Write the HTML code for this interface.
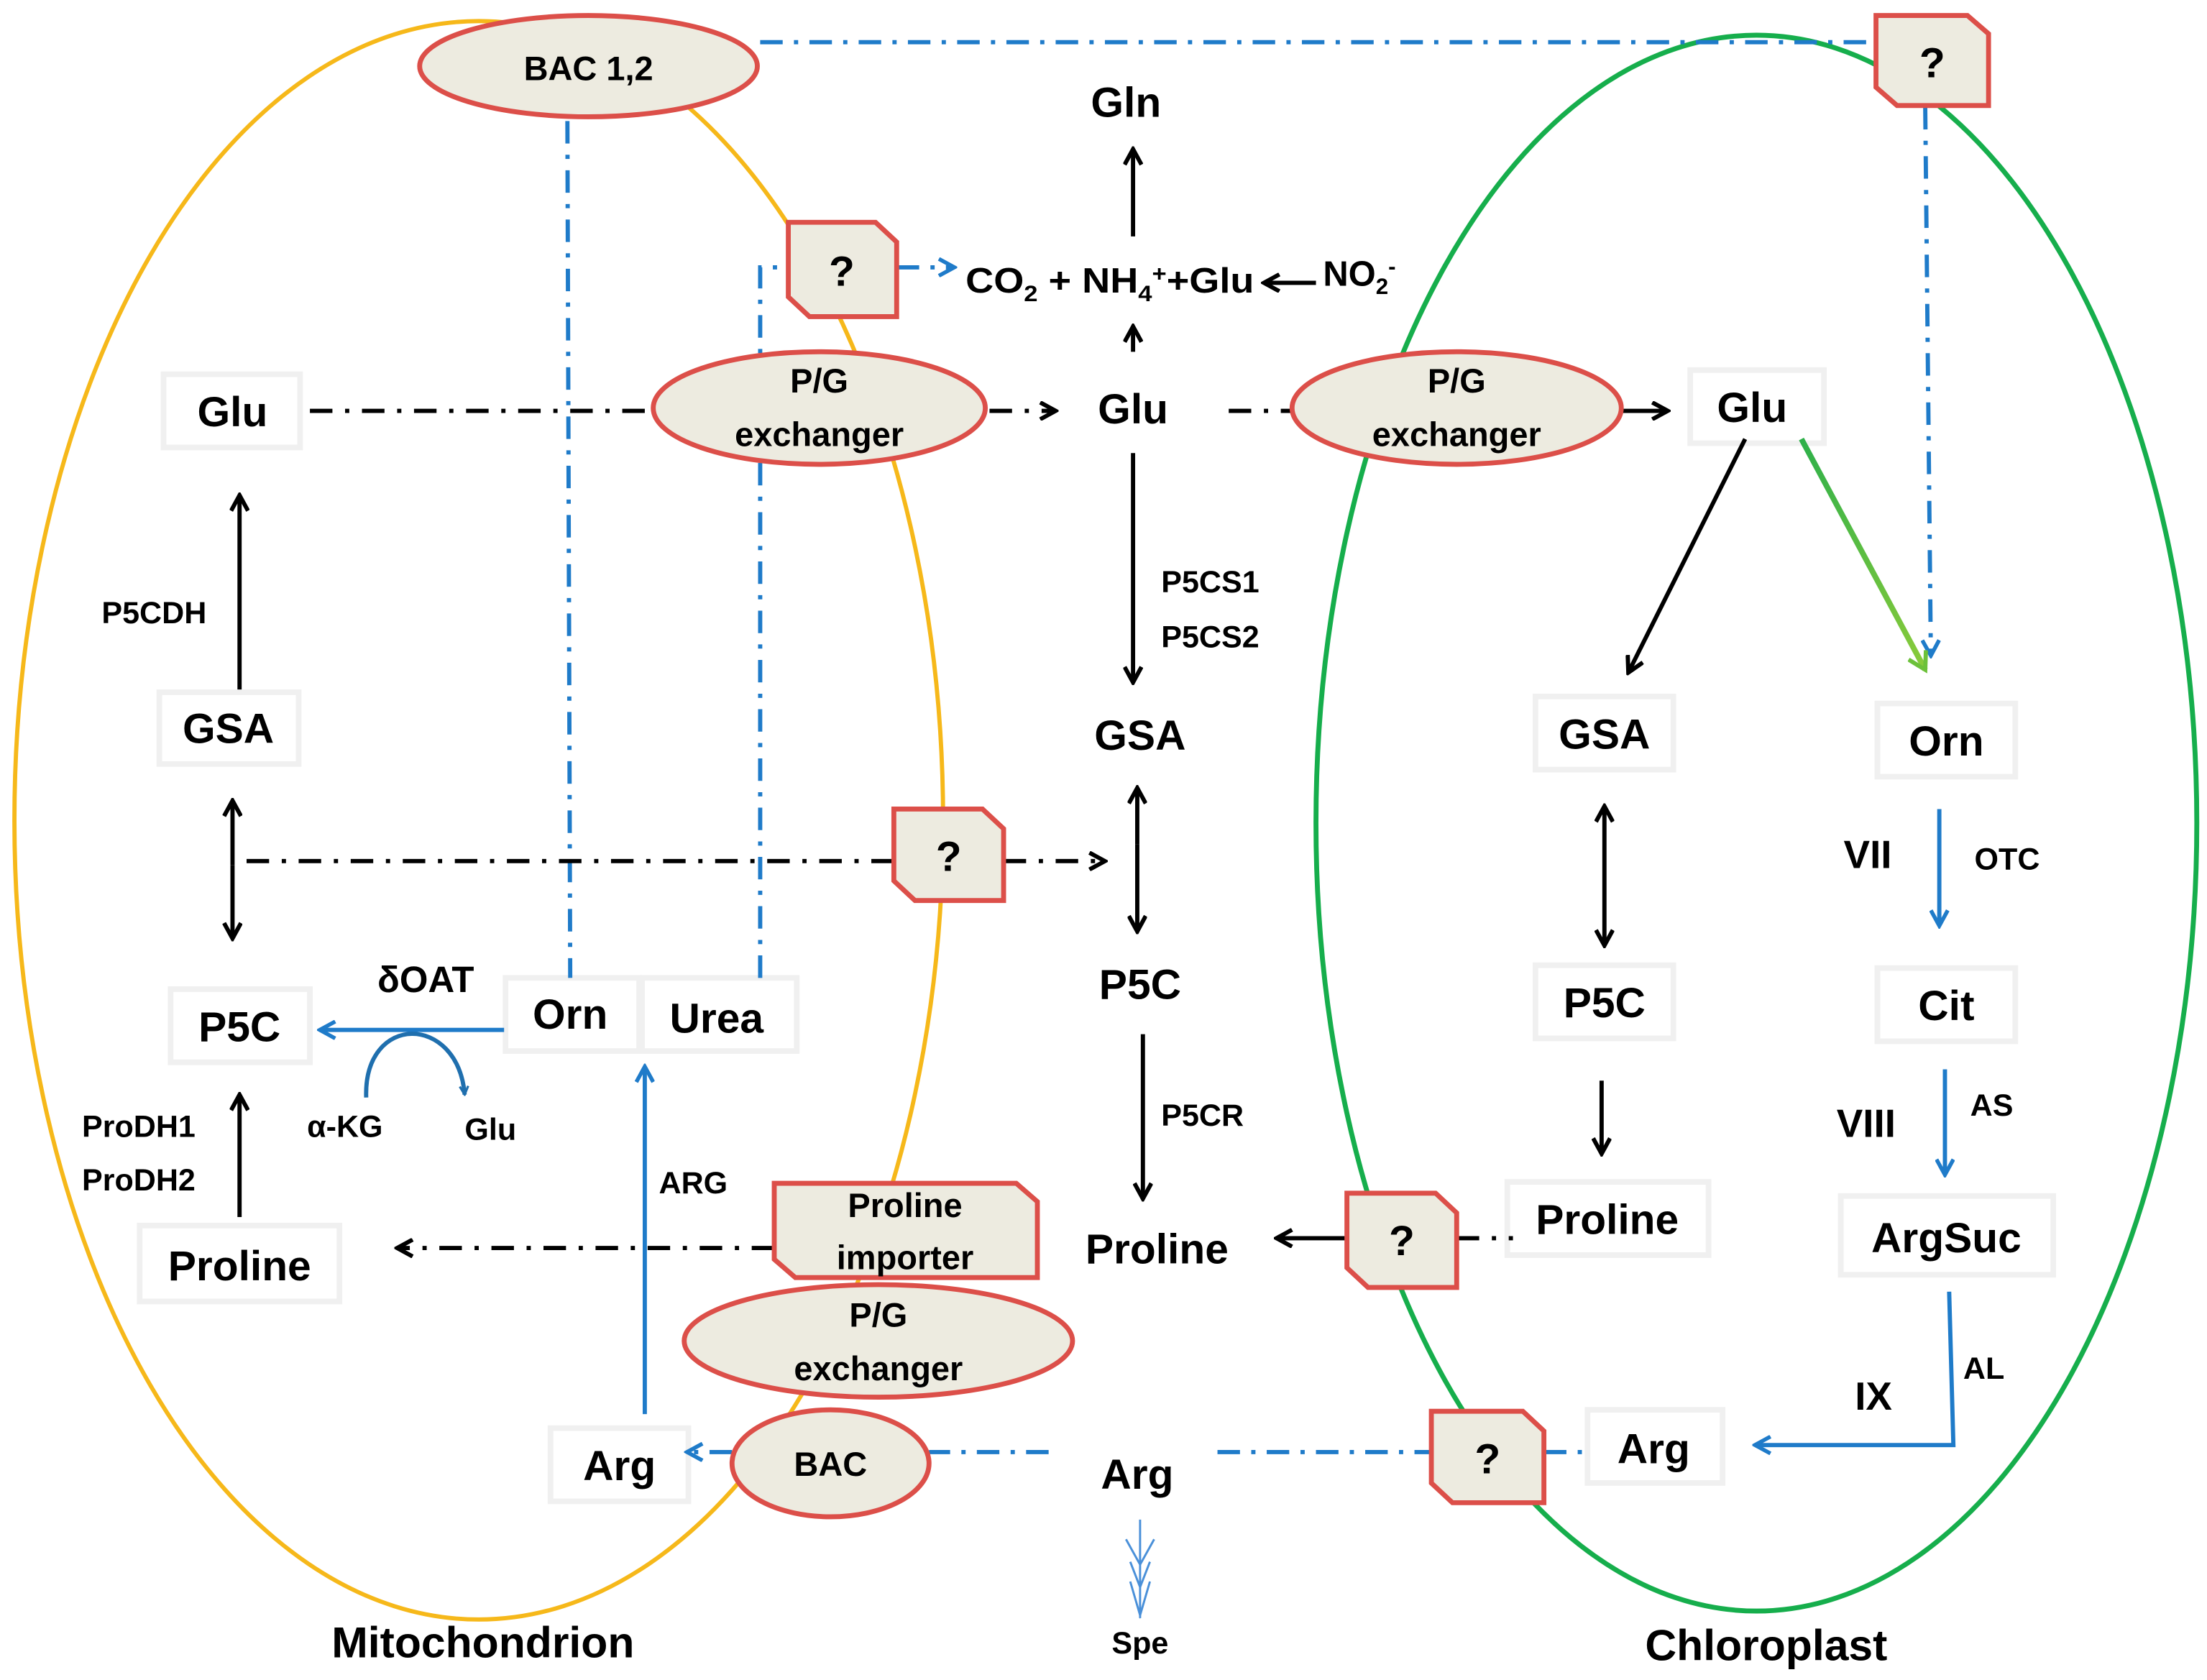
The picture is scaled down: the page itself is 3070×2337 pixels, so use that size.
<!DOCTYPE html>
<html><head><meta charset="utf-8"><style>
html,body{margin:0;padding:0;background:#fff;}
svg{display:block;}
text{font-family:"Liberation Sans",sans-serif;font-weight:bold;fill:#000;}
</style></head><body>
<svg width="3070" height="2337" viewBox="0 0 1568 1194" xmlns="http://www.w3.org/2000/svg">
<defs>
<marker id="ak" markerWidth="14" markerHeight="14" refX="12" refY="7" orient="auto" markerUnits="userSpaceOnUse" viewBox="0 0 14 14"><path d="M1,1 L12,7 L1,13" fill="none" stroke="#000" stroke-width="3"/></marker>
<marker id="abl" markerWidth="14" markerHeight="14" refX="12" refY="7" orient="auto" markerUnits="userSpaceOnUse" viewBox="0 0 14 14"><path d="M1,1 L12,7 L1,13" fill="none" stroke="#1F7BC9" stroke-width="2.8"/></marker>
<marker id="ag" markerWidth="16" markerHeight="16" refX="13" refY="8" orient="auto" markerUnits="userSpaceOnUse" viewBox="0 0 16 16"><path d="M1,1 L13,8 L1,15" fill="none" stroke="#6CC13A" stroke-width="3"/></marker>
<marker id="as" markerWidth="8" markerHeight="8" refX="7" refY="4" orient="auto" markerUnits="userSpaceOnUse" viewBox="0 0 8 8"><path d="M1,1 L7,4 L1,7" fill="none" stroke="#1F6FAE" stroke-width="1.6"/></marker>
<linearGradient id="gg" x1="0" y1="0" x2="1" y2="1"><stop offset="0" stop-color="#2EB04A"/><stop offset="1" stop-color="#8ACB3A"/></linearGradient>
</defs>

<ellipse cx="340" cy="583" rx="330" ry="568" fill="none" stroke="#F6B81A" stroke-width="3"/>
<ellipse cx="1248" cy="585" rx="313" ry="560" fill="none" stroke="#16AE4C" stroke-width="3.5"/>

<g fill="#fff" stroke="#f0f0f0" stroke-width="4">
<rect x="116" y="266" width="97" height="52"/>
<rect x="113" y="492" width="99" height="51"/>
<rect x="121" y="703" width="99" height="52"/>
<rect x="99" y="871" width="142" height="54"/>
<rect x="359" y="695" width="95" height="52"/>
<rect x="456" y="695" width="110" height="52"/>
<rect x="391" y="1015" width="98" height="52"/>
<rect x="1201" y="263" width="95" height="52"/>
<rect x="1091" y="495" width="98" height="52"/>
<rect x="1091" y="686" width="98" height="52"/>
<rect x="1071" y="840" width="143" height="52"/>
<rect x="1334" y="500" width="98" height="52"/>
<rect x="1334" y="688" width="98" height="52"/>
<rect x="1308" y="850" width="151" height="56"/>
<rect x="1128" y="1002" width="96" height="52"/>
</g>

<g fill="none" stroke="#1F7BC9" stroke-width="3" stroke-dasharray="16 8 3 8">
<path d="M540,30 L1333,30"/>
<path d="M1368,76 L1372,466" marker-end="url(#abl)"/>
<path d="M403,86 L405,695"/>
<path d="M540,695 L540,190 L560,190"/>
<path d="M637,190 L678,190" marker-end="url(#abl)"/>
<path d="M745,1032 L660,1032"/>
<path d="M520,1032 L488,1032" marker-end="url(#abl)"/>
<path d="M865,1032 L1017,1032"/>
<path d="M1097,1032 L1125,1032"/>
</g>

<g fill="none" stroke="#000" stroke-width="3" stroke-dasharray="16 9 3 9">
<path d="M220,292 L465,292"/>
<path d="M703,292 L750,292" marker-end="url(#ak)"/>
<path d="M873,292 L917,292"/>
<path d="M175,612 L635,612"/>
<path d="M713,612 L785,612" marker-end="url(#ak)"/>
<path d="M550,887 L282,887" marker-end="url(#ak)"/>
<path d="M1035,880 L1075,880"/>
</g>

<g fill="none" stroke="#000" stroke-width="3">
<path d="M1152,292 L1185,292" marker-end="url(#ak)"/>
<path d="M957,880 L907,880" marker-end="url(#ak)"/>
<path d="M805,168 L805,106" marker-end="url(#ak)"/>
<path d="M805,250 L805,232" marker-end="url(#ak)"/>
<path d="M935,201 L898,201" marker-end="url(#ak)"/>
<path d="M805,322 L805,485" marker-end="url(#ak)"/>
<path d="M808,600 L808,560" marker-end="url(#ak)"/>
<path d="M808,600 L808,662" marker-end="url(#ak)"/>
<path d="M812,735 L812,852" marker-end="url(#ak)"/>
<path d="M170,490 L170,352" marker-end="url(#ak)"/>
<path d="M165,615 L165,569" marker-end="url(#ak)"/>
<path d="M165,615 L165,667" marker-end="url(#ak)"/>
<path d="M170,865 L170,778" marker-end="url(#ak)"/>
<path d="M1240,312 L1157,478" marker-end="url(#ak)"/>
<path d="M1140,620 L1140,573" marker-end="url(#ak)"/>
<path d="M1140,620 L1140,672" marker-end="url(#ak)"/>
<path d="M1138,768 L1138,820" marker-end="url(#ak)"/>
</g>
<path d="M1280,312 L1368,476" fill="none" stroke="url(#gg)" stroke-width="4" marker-end="url(#ag)"/>

<g fill="none" stroke="#1F7BC9" stroke-width="3">
<path d="M358,732 L227,732" marker-end="url(#abl)"/>
<path d="M458,1005 L458,758" marker-end="url(#abl)"/>
<path d="M1378,575 L1378,658" marker-end="url(#abl)"/>
<path d="M1382,760 L1382,835" marker-end="url(#abl)"/>
<path d="M1385,918 L1388,1027 L1247,1027" marker-end="url(#abl)"/>
</g>
<path d="M260,780 C258,720 325,720 330,778" fill="none" stroke="#1F6FAE" stroke-width="3" marker-end="url(#as)"/>
<g fill="none" stroke="#4A90D9" stroke-width="1.5">
<path d="M810,1080 L810,1150"/>
<path d="M800,1094 L810,1112 L820,1094"/>
<path d="M803,1110 L810,1128 L817,1110"/>
<path d="M803,1124 L810,1148 L817,1124"/>
</g>

<g fill="#EDEBE0" stroke="#DC4F49" stroke-width="3.5">
<ellipse cx="418" cy="47" rx="120" ry="36"/>
<ellipse cx="582" cy="290" rx="118" ry="40"/>
<ellipse cx="1035" cy="290" rx="117" ry="40"/>
<ellipse cx="624" cy="953" rx="138" ry="40"/>
<ellipse cx="590" cy="1040" rx="70" ry="38"/>
<path d="M1333,11 L1398,11 L1413,24 L1413,75 L1348,75 L1333,62 Z"/>
<path d="M560,158 L622,158 L637,172 L637,225 L575,225 L560,211 Z"/>
<path d="M635,575 L698,575 L713,589 L713,640 L650,640 L635,626 Z"/>
<path d="M957,848 L1020,848 L1035,862 L1035,915 L972,915 L957,901 Z"/>
<path d="M1017,1003 L1082,1003 L1097,1017 L1097,1068 L1032,1068 L1017,1054 Z"/>
<path d="M550,841 L722,841 L737,854 L737,908 L565,908 L550,895 Z"/>
</g>

<g text-anchor="middle" font-size="28">
<text x="418" y="57" font-size="24">BAC 1,2</text>
<text x="1373" y="55" font-size="30">?</text>
<text x="598" y="203" font-size="30">?</text>
<text x="674" y="619" font-size="30">?</text>
<text x="996" y="892" font-size="30">?</text>
<text x="1057" y="1047" font-size="30">?</text>
<text x="582" y="279" font-size="24">P/G</text>
<text x="582" y="317" font-size="24">exchanger</text>
<text x="1035" y="279" font-size="24">P/G</text>
<text x="1035" y="317" font-size="24">exchanger</text>
<text x="624" y="943" font-size="24">P/G</text>
<text x="624" y="981" font-size="24">exchanger</text>
<text x="590" y="1049" font-size="24">BAC</text>
<text x="643" y="865" font-size="24">Proline</text>
<text x="643" y="902" font-size="24">importer</text>

<text x="165" y="303" font-size="30">Glu</text>
<text x="162" y="528" font-size="30">GSA</text>
<text x="170" y="740" font-size="30">P5C</text>
<text x="170" y="910" font-size="30">Proline</text>
<text x="405" y="731" font-size="30">Orn</text>
<text x="509" y="734" font-size="30">Urea</text>
<text x="440" y="1052" font-size="30">Arg</text>
<text x="800" y="83" font-size="30">Gln</text>
<text x="805" y="301" font-size="30">Glu</text>
<text x="810" y="533" font-size="30">GSA</text>
<text x="810" y="710" font-size="30">P5C</text>
<text x="822" y="898" font-size="30">Proline</text>
<text x="808" y="1058" font-size="30">Arg</text>
<text x="810" y="1175" font-size="22">Spe</text>
<text x="1245" y="300" font-size="30">Glu</text>
<text x="1140" y="532" font-size="30">GSA</text>
<text x="1140" y="723" font-size="30">P5C</text>
<text x="1142" y="877" font-size="30">Proline</text>
<text x="1383" y="537" font-size="30">Orn</text>
<text x="1383" y="725" font-size="30">Cit</text>
<text x="1383" y="890" font-size="30">ArgSuc</text>
<text x="1175" y="1040" font-size="30">Arg</text>
<text x="343" y="1178" font-size="31">Mitochondrion</text>
<text x="1255" y="1180" font-size="31">Chloroplast</text>
</g>
<g font-size="22">
<text x="686" y="208" font-size="25" textLength="205" lengthAdjust="spacingAndGlyphs">CO<tspan font-size="16" dy="6">2</tspan><tspan dy="-6"> + NH</tspan><tspan font-size="16" dy="6">4</tspan><tspan font-size="16" dy="-14">+</tspan><tspan dy="8">+Glu</tspan></text>
<text x="940" y="203" font-size="25">NO<tspan font-size="16" dy="6">2</tspan><tspan font-size="16" dy="-14">-</tspan></text>
<text x="825" y="421">P5CS1</text>
<text x="825" y="460">P5CS2</text>
<text x="825" y="800">P5CR</text>
<text x="72" y="443">P5CDH</text>
<text x="58" y="808">ProDH1</text>
<text x="58" y="846">ProDH2</text>
<text x="268" y="705" font-size="26" font-weight="normal">δOAT</text>
<text x="218" y="808" font-weight="normal">α-KG</text>
<text x="330" y="810" font-weight="normal">Glu</text>
<text x="468" y="848" font-weight="normal">ARG</text>
<text x="1310" y="617" font-size="28" font-weight="normal">VII</text>
<text x="1403" y="618">OTC</text>
<text x="1305" y="808" font-size="28" font-weight="normal">VIII</text>
<text x="1400" y="793">AS</text>
<text x="1318" y="1002" font-size="28" font-weight="normal">IX</text>
<text x="1395" y="980">AL</text>
</g>
</svg>
</body></html>
